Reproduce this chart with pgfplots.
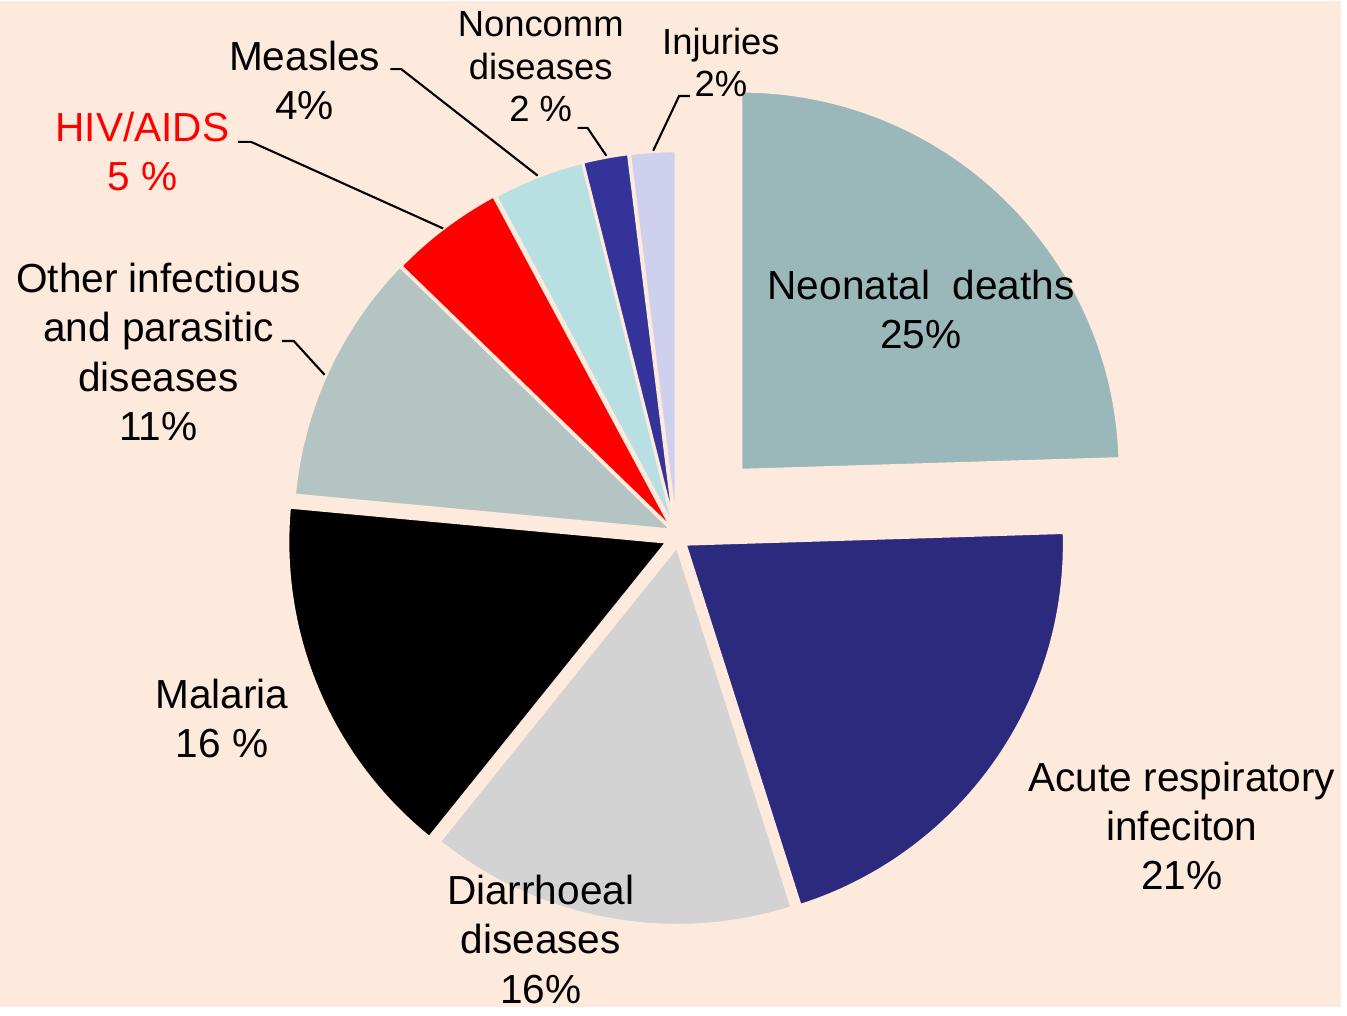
\documentclass[border=0pt]{standalone}
\usepackage{pgfplots}
\pgfplotsset{compat=1.18}
\usepackage{fontspec}
\setmainfont{Liberation Sans}
\definecolor{bg}{HTML}{FDEADC}
\definecolor{cNeo}{HTML}{9AB8BA}
\definecolor{cARI}{HTML}{2B2A7E}
\definecolor{cDia}{HTML}{D3D3D3}
\definecolor{cMal}{HTML}{000000}
\definecolor{cOth}{HTML}{B4C4C3}
\definecolor{cHIV}{HTML}{FF0000}
\definecolor{cMea}{HTML}{B8E0E3}
\definecolor{cNon}{HTML}{333399}
\definecolor{cInj}{HTML}{CFCFEE}
% slice: cumulative start, cumulative end (percent values, total 102 -> 3.529412 deg per unit), colour, offset x, offset y
\newcommand{\slice}[5]{%
  \fill[#3, draw=bg, line width=0.9pt, line join=round]
    (axis cs:{678+#4},{479+#5}) -- ++({90-#1*3.529412}:3.81cm)
    arc[start angle={90-#1*3.529412}, end angle={90-#2*3.529412}, radius=3.81cm] -- cycle;}
\newcommand{\mainfont}{\fontsize{11.6}{14.1}\selectfont}
\newcommand{\smallfont}{\fontsize{10.4}{12.1}\selectfont}
\begin{document}
\begin{tikzpicture}
\begin{axis}[hide axis, scale only axis, width=13.47cm, height=10.10cm,
  xmin=0, xmax=1347, ymin=0, ymax=1010, clip=false]
\fill[bg] (axis cs:0,0) rectangle (axis cs:1347,1010);
% values: Neonatal 25, ARI 21, Diarrhoeal 16, Malaria 16, Other 11, HIV 5, Measles 4, Noncomm 2, Injuries 2
\slice{0}{25}{cNeo}{66}{60}
\slice{25}{46}{cARI}{10}{-14}
\slice{46}{62}{cDia}{2}{-16}
\slice{62}{78}{cMal}{-8}{-12}
\slice{78}{89}{cOth}{-3}{0}
\slice{89}{94}{cHIV}{-2}{0}
\slice{94}{98}{cMea}{0}{0}
\slice{98}{100}{cNon}{0}{0}
\slice{100}{102}{cInj}{1}{0}
% leader lines
\draw[black, line width=0.6pt] (axis cs:392,942) -- (axis cs:403,942) -- (axis cs:540,835);
\draw[black, line width=0.6pt] (axis cs:580,883) -- (axis cs:590,883) -- (axis cs:609,855);
\draw[black, line width=0.6pt] (axis cs:693,915) -- (axis cs:682,915) -- (axis cs:656,860);
\draw[black, line width=0.6pt] (axis cs:239,869) -- (axis cs:252,869) -- (axis cs:445,782);
\draw[black, line width=0.6pt] (axis cs:283,669) -- (axis cs:295,669) -- (axis cs:326,635);
% labels
\node[align=center, font=\mainfont] at (axis cs:925,700.5) {Neonatal\ \ deaths\\25\%};
\node[align=center, font=\mainfont] at (axis cs:1187,182) {Acute respiratory\\infeciton\\21\%};
\node[align=center, font=\mainfont] at (axis cs:543,68) {Diarrhoeal\\diseases\\16\%};
\node[align=center, font=\mainfont] at (axis cs:223,290) {Malaria\\16 \%};
\node[align=center, font=\mainfont] at (axis cs:159,658) {Other infectious\\and parasitic\\diseases\\11\%};
\node[align=center, font=\mainfont, text=red] at (axis cs:143,859) {HIV/AIDS\\5 \%};
\node[align=center, font=\mainfont] at (axis cs:306,930.5) {Measles\\4\%};
\node[align=center, font=\smallfont] at (axis cs:543,944.5) {Noncomm\\diseases\\2 \%};
\node[align=center, font=\smallfont] at (axis cs:724,949) {Injuries\\2\%};
\end{axis}
\end{tikzpicture}
\end{document}
